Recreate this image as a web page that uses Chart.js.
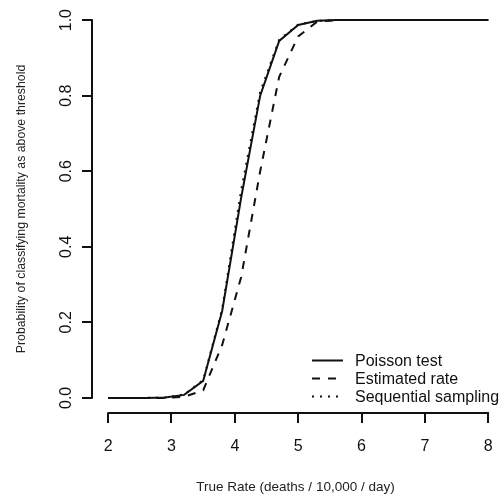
<!DOCTYPE html>
<html>
<head>
<meta charset="utf-8">
<script src="https://cdn.jsdelivr.net/npm/chart.js@4.4.0/dist/chart.umd.min.js"></script>
<style>
  html, body { margin: 0; padding: 0; background: #fff; }
  #wrap { width: 499px; height: 502px; }
</style>
</head>
<body>
<div id="wrap"><canvas id="myChart" width="499" height="502"></canvas></div>
<script>
// ── data ──
const rates = [2.0, 2.3, 2.6, 2.9, 3.2, 3.5, 3.8, 4.1, 4.4, 4.7, 5.0, 5.3, 5.6, 5.9, 6.2, 6.5, 6.8, 7.1, 7.4, 7.7, 8.0];
const poissonTest        = [0, 0, 0, 0.001, 0.008, 0.045, 0.23, 0.53, 0.80, 0.945, 0.987, 0.998, 1, 1, 1, 1, 1, 1, 1, 1, 1];
const estimatedRate      = [0, 0, 0, 0, 0.003, 0.02, 0.14, 0.32, 0.60, 0.85, 0.957, 0.996, 1, 1, 1, 1, 1, 1, 1, 1, 1];
const sequentialSampling = [0, 0, 0, 0.001, 0.009, 0.047, 0.235, 0.55, 0.81, 0.948, 0.988, 0.998, 1, 1, 1, 1, 1, 1, 1, 1, 1];
const seriesNames = ['Poisson test', 'Estimated rate', 'Sequential sampling'];
const xTicks = [2, 3, 4, 5, 6, 7, 8];
const yTicks = [0, 0.2, 0.4, 0.6, 0.8, 1.0];

const INK  = '#111';
const FONT = '"Liberation Sans", Arial, sans-serif';

const toPoints = ys => rates.map((x, i) => ({ x, y: ys[i] }));

// axis lines R-style: only from first to last tick
const rAxes = {
  id: 'rAxes',
  afterDraw(chart) {
    const { ctx, chartArea, scales } = chart;
    ctx.save();
    ctx.strokeStyle = INK;
    ctx.lineWidth = 2;
    ctx.lineCap = 'round';
    ctx.beginPath();
    ctx.moveTo(chartArea.left, scales.y.getPixelForValue(yTicks[0]));
    ctx.lineTo(chartArea.left, scales.y.getPixelForValue(yTicks[yTicks.length - 1]));
    ctx.moveTo(scales.x.getPixelForValue(xTicks[0]), chartArea.bottom);
    ctx.lineTo(scales.x.getPixelForValue(xTicks[xTicks.length - 1]), chartArea.bottom);
    ctx.stroke();
    ctx.restore();
  }
};

// legend in the bottom right corner, no box
const rLegend = {
  id: 'rLegend',
  afterDraw(chart) {
    const { ctx, chartArea } = chart;
    const x0 = chartArea.right - 187;
    const y0 = chartArea.bottom - 52.5;
    ctx.save();
    ctx.font = '16px ' + FONT;
    ctx.textBaseline = 'middle';
    ctx.fillStyle = INK;
    chart.data.datasets.forEach((ds, i) => {
      const y = y0 + i * 18;
      ctx.strokeStyle = ds.borderColor;
      ctx.lineWidth = ds.borderWidth;
      ctx.setLineDash(ds.borderDash || []);
      ctx.beginPath();
      ctx.moveTo(x0, y);
      ctx.lineTo(x0 + 31, y);
      ctx.stroke();
      ctx.setLineDash([]);
      ctx.fillText(ds.label, x0 + 43, y + 1);
    });
    ctx.restore();
  }
};

const tickGrid = { display: true, drawOnChartArea: false, drawTicks: true, tickLength: 10, color: INK, lineWidth: 2 };

const ctx = document.getElementById('myChart').getContext('2d');
new Chart(ctx, {
  type: 'line',
  data: {
    datasets: [
      { label: seriesNames[0], data: toPoints(poissonTest), borderColor: INK, borderWidth: 2, borderDash: [] },
      { label: seriesNames[1], data: toPoints(estimatedRate), borderColor: INK, borderWidth: 2, borderDash: [8, 8] },
      { label: seriesNames[2], data: toPoints(sequentialSampling), borderColor: INK, borderWidth: 2, borderDash: [2, 6] }
    ]
  },
  options: {
    responsive: false,
    animation: false,
    layout: { padding: { top: 5, right: 0, bottom: 0, left: 0 } },
    elements: {
      point: { radius: 0 },
      line: { tension: 0, fill: false, borderCapStyle: 'butt' }
    },
    plugins: {
      legend: { display: false },
      tooltip: { enabled: false }
    },
    scales: {
      x: {
        type: 'linear',
        min: 1.745,
        max: 8.17,
        afterBuildTicks: s => { s.ticks = xTicks.map(v => ({ value: v })); },
        afterFit: s => { s.height = 89; s.paddingLeft = 0; s.paddingRight = 0; },
        grid: tickGrid,
        border: { display: false },
        ticks: { color: INK, autoSkip: false, maxRotation: 0, padding: 14, font: { size: 16, family: FONT } },
        title: {
          display: true,
          text: 'True Rate (deaths / 10,000 / day)',
          color: '#222',
          font: { size: 13.5, family: FONT },
          padding: { top: 0, bottom: 7 }
        }
      },
      y: {
        type: 'linear',
        min: -0.04,
        max: 1.04,
        afterBuildTicks: s => { s.ticks = yTicks.map(v => ({ value: v })); },
        afterFit: s => { s.width = 92; s.paddingTop = 0; s.paddingBottom = 0; },
        grid: tickGrid,
        border: { display: false },
        ticks: {
          color: INK, autoSkip: false, minRotation: 90, maxRotation: 90, crossAlign: 'center', padding: 4,
          font: { size: 16, family: FONT },
          callback: v => v.toFixed(1)
        },
        title: {
          display: true,
          text: 'Probability of classifying mortality as above threshold',
          color: '#222',
          font: { size: 12.3, family: FONT },
          padding: { top: 14.3, bottom: 0 }
        }
      }
    }
  },
  plugins: [rAxes, rLegend]
});
</script>
</body>
</html>
